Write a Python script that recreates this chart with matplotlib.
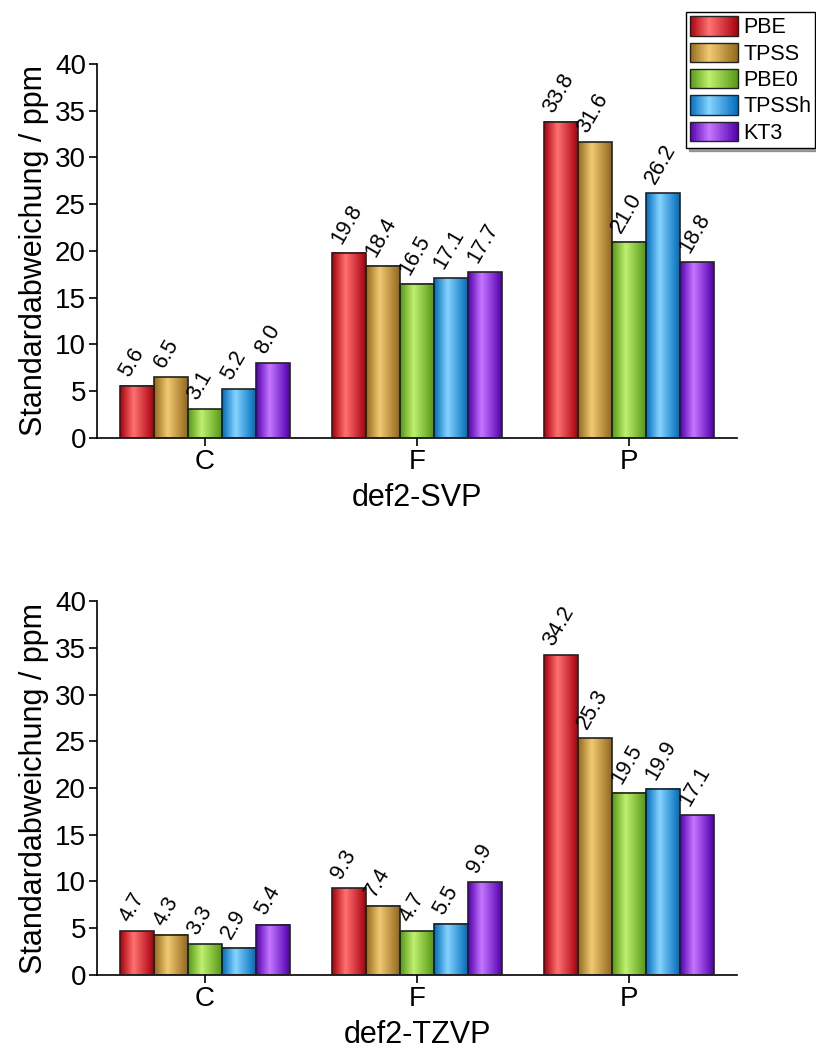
import numpy as np
import matplotlib.pyplot as plt
from matplotlib.patches import Rectangle
from matplotlib.colors import LinearSegmentedColormap
from matplotlib.legend_handler import HandlerBase

plt.rcParams['font.family'] = ['Liberation Sans', 'DejaVu Sans']

elemente = ['C', 'F', 'P']
methoden = ['PBE', 'TPSS', 'PBE0', 'TPSSh', 'KT3']

svp = {
    'PBE': [5.6, 19.8, 33.8],
    'TPSS': [6.5, 18.4, 31.6],
    'PBE0': [3.1, 16.5, 21.0],
    'TPSSh': [5.2, 17.1, 26.2],
    'KT3': [8.0, 17.7, 18.8],
}
tzvp = {
    'PBE': [4.7, 9.3, 34.2],
    'TPSS': [4.3, 7.4, 25.3],
    'PBE0': [3.3, 4.7, 19.5],
    'TPSSh': [2.9, 5.5, 19.9],
    'KT3': [5.4, 9.9, 17.1],
}

# dunkel / hell je Methode fuer den Farbverlauf
farben = {
    'PBE': ('#a8000c', '#ff7272'),
    'TPSS': ('#93681c', '#f2ca72'),
    'PBE0': ('#559814', '#c0f070'),
    'TPSSh': ('#006cbc', '#86d4ff'),
    'KT3': ('#5200b0', '#c676ff'),
}


def verlauf(name):
    dunkel, hell = farben[name]
    return LinearSegmentedColormap.from_list(
        name, [(0.0, dunkel), (0.4, hell), (1.0, dunkel)])


grad = np.linspace(0, 1, 64).reshape(1, -1)
breite = 0.16
x = np.arange(len(elemente))


def balken(ax, daten, titel):
    for i, m in enumerate(methoden):
        cmap = verlauf(m)
        for j, h in enumerate(daten[m]):
            x0 = x[j] + (i - 2.5) * breite
            ax.imshow(grad, cmap=cmap, aspect='auto', interpolation='bicubic',
                      extent=(x0, x0 + breite, 0, h), zorder=2)
            ax.add_patch(Rectangle((x0, 0), breite, h, fill=False,
                                   edgecolor='#222222', lw=1.2, zorder=3))
            ax.annotate(f'{h:.1f}', (x0 + breite / 2, h), xytext=(-2.5, 4),
                        textcoords='offset points', rotation=60,
                        rotation_mode='anchor', ha='left', va='bottom',
                        fontsize=15.5, zorder=5, annotation_clip=False)
    ax.set_xlim(-0.51, 2.51)
    ax.set_ylim(0, 40)
    ax.set_yticks(np.arange(0, 41, 5))
    ax.set_xticks(x)
    ax.set_xticklabels(elemente)
    ax.spines['top'].set_visible(False)
    ax.spines['right'].set_visible(False)
    ax.spines['left'].set_linewidth(1.2)
    ax.spines['bottom'].set_linewidth(1.2)
    ax.tick_params(direction='out', length=6, width=1.2, labelsize=20, pad=2)
    ax.set_ylabel('Standardabweichung / ppm', fontsize=22, labelpad=4)
    ax.set_xlabel(titel, fontsize=22, labelpad=6)


class GradientHandler(HandlerBase):
    def create_artists(self, legend, orig, xd, yd, width, height, fontsize, trans):
        cmap = verlauf(orig.get_label())
        n = 24
        teile = []
        for k in range(n):
            teile.append(Rectangle((-xd + width * k / n, -yd), width / n + 0.3, height,
                                   facecolor=cmap((k + 0.5) / n), lw=0, transform=trans))
        teile.append(Rectangle((-xd, -yd), width, height, fill=False,
                               edgecolor='#222222', lw=1.0, transform=trans))
        return teile


fig = plt.figure(figsize=(8.16, 10.52), dpi=100)
ax1 = fig.add_axes([0.1189, 0.5837, 0.7843, 0.3555])
ax2 = fig.add_axes([0.1189, 0.0732, 0.7843, 0.3555])
balken(ax1, svp, 'def2-SVP')
balken(ax2, tzvp, 'def2-TZVP')

griffe = [Rectangle((0, 0), 1, 1, label=m) for m in methoden]
fig.legend(handles=griffe, labels=methoden,
           handler_map={Rectangle: GradientHandler()},
           loc='upper left', bbox_to_anchor=(686 / 816, 1 - 12 / 1052),
           fontsize=15.5, frameon=True, fancybox=False, shadow=True,
           edgecolor='black', handlelength=2.2, handleheight=1.0,
           handletextpad=0.25, labelspacing=0.2, borderpad=0.2,
           borderaxespad=0.0)

fig.savefig('out.png', dpi=100)
